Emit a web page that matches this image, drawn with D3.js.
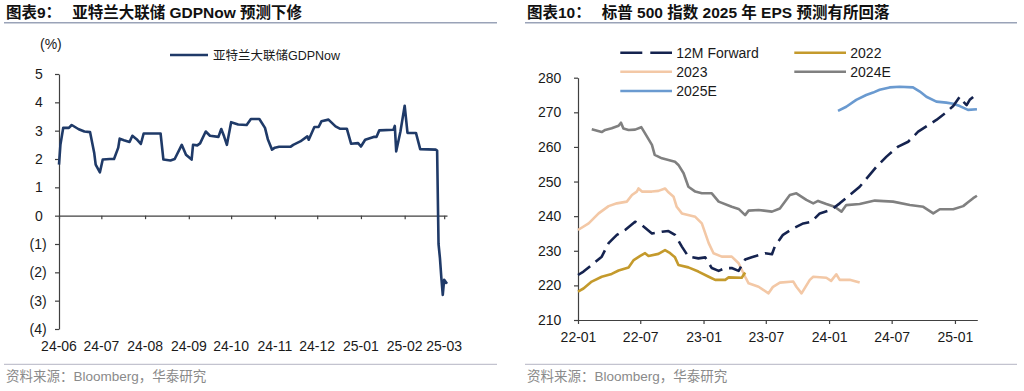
<!DOCTYPE html>
<html><head><meta charset="utf-8">
<script src="https://cdn.jsdelivr.net/npm/d3@7"></script>
<style>
html,body{margin:0;padding:0;background:#fff;}
svg{display:block;font-family:"Liberation Sans","Noto Sans CJK SC",Arial,sans-serif;}
</style></head><body>
<svg id="c" width="1024" height="391"></svg>
<script>
// ---------- Left chart data: Atlanta Fed GDPNow (%) ----------
const gdpDates = ["2024-06-01","2024-06-02","2024-06-04","2024-06-08","2024-06-10","2024-06-15","2024-06-19","2024-06-23","2024-06-26","2024-06-27","2024-06-30",
"2024-07-02","2024-07-07","2024-07-10","2024-07-13","2024-07-14","2024-07-17","2024-07-21","2024-07-23","2024-07-26","2024-07-29","2024-07-31",
"2024-08-12","2024-08-14","2024-08-19","2024-08-22","2024-08-27","2024-08-30","2024-09-03","2024-09-04","2024-09-07","2024-09-09","2024-09-13","2024-09-16","2024-09-22","2024-09-24","2024-09-26","2024-09-28",
"2024-10-01","2024-10-06","2024-10-12","2024-10-15","2024-10-21","2024-10-25","2024-10-27","2024-10-30","2024-11-01","2024-11-04","2024-11-12","2024-11-14","2024-11-19","2024-11-24","2024-11-25","2024-11-29",
"2024-12-02","2024-12-04","2024-12-09","2024-12-14","2024-12-17","2024-12-22","2024-12-25","2024-12-30","2025-01-01","2025-01-04","2025-01-10","2025-01-12","2025-01-14","2025-01-24","2025-01-25","2025-01-26","2025-01-29",
"2025-02-01","2025-02-03","2025-02-09","2025-02-12","2025-02-23","2025-02-24","2025-02-25","2025-02-26","2025-02-27","2025-02-28","2025-03-01","2025-03-03"];
const gdpValues = [1.8,2.5,3.1,3.1,3.2,3.05,2.97,2.95,2.2,1.8,1.53,
1.98,2.0,2.0,2.4,2.72,2.66,2.6,2.82,2.7,2.53,2.9,
2.9,1.98,1.95,2.0,2.5,2.15,1.98,2.5,2.48,2.55,2.97,2.82,2.78,3.06,2.8,2.5,
3.3,3.22,3.2,3.41,3.41,3.1,2.7,2.33,2.4,2.43,2.43,2.5,2.62,2.8,2.68,3.13,
3.13,3.33,3.39,3.15,3.07,3.07,2.54,2.56,2.44,2.68,2.78,2.78,3.01,3.03,3.17,2.27,2.97,
3.88,2.92,2.92,2.35,2.33,2.3,-1.0,-1.5,-2.2,-2.8,-2.26,-2.4];
const gdpYTicks = [5,4,3,2,1,0,-1,-2,-3,-4];
const gdpXTicks = ["2024-06-01","2024-07-01","2024-08-01","2024-09-01","2024-10-01","2024-11-01","2024-12-01","2025-01-01","2025-02-01","2025-03-01"];
const gdpSeriesName = "亚特兰大联储GDPNow";

// ---------- Right chart data: S&P 500 EPS ----------
const fwdDates = ["2022-01-01","2022-01-17","2022-02-10","2022-03-11","2022-03-31","2022-04-24","2022-05-18","2022-06-16","2022-07-06","2022-08-04","2022-09-02","2022-09-21","2022-10-10","2022-10-30","2022-11-18","2022-12-17",
"2023-01-06","2023-01-25","2023-02-14","2023-03-05","2023-03-24","2023-04-13","2023-05-02","2023-05-21","2023-06-29","2023-07-19","2023-07-27","2023-08-20","2023-09-19","2023-10-18","2023-11-11","2023-12-05",
"2024-01-07","2024-02-01","2024-03-01","2024-03-30","2024-05-18","2024-06-16","2024-07-20","2024-08-18","2024-09-16","2024-10-15","2024-11-08","2024-12-03","2024-12-27","2025-01-15","2025-01-25","2025-02-04","2025-02-13","2025-03-05"];
const fwdValues = [223,224,225.9,228.3,232.2,234.6,236,238.4,237.4,235,235.5,235.7,234.6,231.2,228.3,227.8,
228.1,225,224.2,225,225,224.2,227.5,228.1,229.3,229,231.2,234.6,236.5,237.9,238.4,240.8,
241.8,243.7,246.1,248.5,254.3,257.2,260.1,261.5,264.4,266.3,267.8,269.7,271.8,274.5,273.1,272.1,273.6,275.3];

const y2022Dates = ["2022-01-01","2022-01-17","2022-02-10","2022-03-11","2022-04-09","2022-04-29","2022-05-28","2022-06-12","2022-07-01","2022-07-15","2022-07-25","2022-08-23","2022-09-11","2022-09-26","2022-10-10","2022-10-20","2022-11-18","2022-12-17",
"2023-01-16","2023-02-04","2023-03-05","2023-03-15","2023-04-22","2023-05-02"];
const y2022Values = [218.2,219.1,221.1,222.5,223.3,224.3,225.2,227.3,228.5,229.3,228.5,229.1,230.2,229.3,228.1,225.9,225.2,224,
222.5,221.6,221.6,222.3,222.2,223.7];

const y2023Dates = ["2022-01-01","2022-02-01","2022-03-02","2022-03-31","2022-04-24","2022-05-23","2022-06-07","2022-06-21","2022-06-26","2022-07-06","2022-08-04","2022-08-23","2022-09-11","2022-09-21","2022-10-06","2022-10-15","2022-10-30","2022-12-08","2022-12-27",
"2023-01-16","2023-01-30","2023-02-23","2023-03-24","2023-04-13","2023-05-02","2023-05-12","2023-06-10","2023-07-09","2023-07-22","2023-08-11","2023-09-19","2023-09-28","2023-10-13","2023-11-06","2023-11-16","2023-12-24",
"2024-01-07","2024-01-22","2024-02-01","2024-03-01","2024-03-30"];
const y2023Values = [236,237.9,240.8,242.9,243.7,244.2,246.1,247.1,248,247.1,247.1,247.3,248,246.9,245.6,242.7,240.8,239.8,237.9,
232.2,229.3,228.3,228.3,226.4,222.5,220.6,219.6,217.7,219.6,220.8,221.1,219.6,217.7,221.6,222.5,222.2,
221.3,223.2,221.6,221.6,220.8];

const y2024Dates = ["2022-02-10","2022-03-11","2022-03-21","2022-04-09","2022-04-29","2022-05-06","2022-05-13","2022-05-28","2022-06-16","2022-07-04","2022-07-15","2022-08-04","2022-08-12","2022-09-02","2022-09-21","2022-10-10","2022-10-20","2022-11-04","2022-11-18","2022-12-08","2022-12-27",
"2023-01-25","2023-02-14","2023-03-24","2023-04-13","2023-05-02","2023-05-12","2023-06-10","2023-07-19","2023-08-11","2023-09-09","2023-09-28","2023-10-27","2023-11-16","2023-11-30","2023-12-24",
"2024-01-17","2024-02-06","2024-02-20","2024-03-30","2024-05-13","2024-07-05","2024-08-23","2024-10-01","2024-10-30","2024-11-18","2024-12-27","2025-01-25","2025-02-08","2025-02-23","2025-03-06"];
const y2024Values = [265.1,264.3,264.9,265.4,266.1,267,265.3,264.9,265,265.7,263.9,260.6,257.7,256.7,256.2,255.7,254.8,252.4,248.5,247.1,246.6,
246.6,244.2,242.7,242.1,240.3,241.6,241.8,241.3,242.2,246.1,246.6,244.7,243.7,244.4,243.5,
242.7,241.3,243.2,243.5,244.5,244.2,243.2,242.7,240.8,242,242,242.9,244,245.2,245.9];

const y2025Dates = ["2024-01-27","2024-02-20","2024-03-20","2024-04-18","2024-05-08","2024-05-27","2024-06-25","2024-07-24","2024-09-01","2024-09-21","2024-10-10","2024-11-08","2024-12-07","2024-12-27","2025-01-15","2025-02-08","2025-03-06"];
const y2025Values = [270.4,271.6,273.6,275,275.7,276.5,277.2,277.4,277.2,276,274.5,273.1,272.8,272.5,271.8,270.7,270.9];

const epsYTicks = [210,220,230,240,250,260,270,280];
const epsXTicks = ["2022-01-01","2022-07-01","2023-01-01","2023-07-01","2024-01-01","2024-07-01","2025-01-01"];
const epsSeriesNames = ["12M Forward","2022","2023","2024E","2025E"];

const titleLeft = "图表9：";
const titleLeftText = "亚特兰大联储 GDPNow 预测下修";
const titleRight = "图表10：";
const titleRightText = "标普 500 指数 2025 年 EPS 预测有所回落";
const sourceText = "资料来源：Bloomberg，华泰研究";

// ---------- drawing ----------
const parse = d3.timeParse("%Y-%m-%d");
const svg = d3.select("#c");
svg.append("rect").attr("width",1024).attr("height",391).attr("fill","#fff");

const axisColor = "#404040";
const textColor = "#1a1a1a";

function header(x0, x1, label, text){
  const t = svg.append("text").attr("x", x0+2).attr("y", 18)
    .attr("font-size", 15.5).attr("font-weight", "bold").attr("fill", "#111");
  t.append("tspan").text(label);
  t.append("tspan").attr("dx", 11).text(text);
  svg.append("line").attr("x1", x0).attr("x2", x1).attr("y1", 22.7).attr("y2", 22.7)
    .attr("stroke", "#9aa3b8").attr("stroke-width", 1.5);
  svg.append("line").attr("x1", x0).attr("x2", x1).attr("y1", 364.3).attr("y2", 364.3)
    .attr("stroke", "#b4b4c4").attr("stroke-width", 1);
  svg.append("text").attr("x", x0+2).attr("y", 380.5).attr("font-size", 13.5)
    .attr("fill", "#8a8a8a").text(sourceText);
}
header(4, 497, titleLeft, titleLeftText);
header(525, 1017, titleRight, titleRightText);

// ---- Left chart ----
{
  const x = d3.scaleTime().domain([parse("2024-06-01"), parse("2025-03-03")]).range([59, 447]);
  const y = d3.scaleLinear().domain([-4, 5]).range([329, 74]);
  const fmt = d => d < 0 ? `(${-d})` : `${d}`;
  const gy = svg.append("g").attr("transform", "translate(59,0)")
    .call(d3.axisLeft(y).tickValues(gdpYTicks).tickFormat(fmt).tickSize(4).tickSizeOuter(0).tickPadding(8.3));
  gy.selectAll("text").attr("font-size", 14).attr("fill", textColor).attr("font-family", "Liberation Sans, Arial")
    .attr("dx", d => d >= 0 ? -4 : 0);
  gy.selectAll("line,path").attr("stroke", axisColor).attr("stroke-width", 1.2);

  const gx = svg.append("g").attr("transform", `translate(0,${y(0)})`)
    .call(d3.axisBottom(x).tickValues(gdpXTicks.map(parse)).tickFormat("").tickSize(3.5).tickSizeOuter(0));
  gx.selectAll("line,path").attr("stroke", axisColor).attr("stroke-width", 1.2);

  svg.append("g").selectAll("text").data(gdpXTicks).join("text")
    .attr("x", d => x(parse(d))).attr("y", 350.7).attr("text-anchor", "middle")
    .attr("font-size", 14).attr("fill", textColor).text(d => d3.timeFormat("%y-%m")(parse(d)));

  svg.append("text").attr("x", 40).attr("y", 48.5).attr("font-size", 14).attr("fill", textColor).text("(%)");

  const data = gdpDates.map((d, i) => [parse(d), gdpValues[i]]);
  svg.append("path").datum(data).attr("fill", "none").attr("stroke", "#1f3a68").attr("stroke-width", 2.6)
    .attr("stroke-linejoin", "round")
    .attr("d", d3.line().x(d => x(d[0])).y(d => y(d[1])));

  svg.append("line").attr("x1", 170).attr("x2", 208).attr("y1", 55).attr("y2", 55)
    .attr("stroke", "#1f3a68").attr("stroke-width", 2.6);
  svg.append("text").attr("x", 213).attr("y", 59.5).attr("font-size", 12.5).attr("fill", textColor).text(gdpSeriesName);
}

// ---- Right chart ----
{
  const x = d3.scaleTime().domain([parse("2022-01-01"), parse("2025-03-07")]).range([578, 977.3]);
  const y = d3.scaleLinear().domain([210, 280]).range([320, 77.7]);
  const gy = svg.append("g").attr("transform", "translate(578,0)")
    .call(d3.axisLeft(y).tickValues(epsYTicks).tickSize(4).tickSizeOuter(0).tickPadding(12.7));
  gy.selectAll("text").attr("font-size", 14).attr("fill", textColor).attr("font-family", "Liberation Sans, Arial");
  gy.selectAll("line,path").attr("stroke", axisColor).attr("stroke-width", 1.2);

  const gx = svg.append("g").attr("transform", `translate(0,${y(210)})`)
    .call(d3.axisBottom(x).tickValues(epsXTicks.map(parse)).tickFormat(d3.timeFormat("%y-%m"))
      .tickSize(4).tickSizeOuter(0).tickPadding(7.7));
  gx.selectAll("text").attr("font-size", 14).attr("fill", textColor).attr("font-family", "Liberation Sans, Arial");
  gx.selectAll("line,path").attr("stroke", axisColor).attr("stroke-width", 1.2);

  const series = [
    {name: epsSeriesNames[3], dates: y2024Dates, vals: y2024Values, color: "#808080", dash: null},
    {name: epsSeriesNames[2], dates: y2023Dates, vals: y2023Values, color: "#f3c8a6", dash: null},
    {name: epsSeriesNames[1], dates: y2022Dates, vals: y2022Values, color: "#c49a2c", dash: null},
    {name: epsSeriesNames[4], dates: y2025Dates, vals: y2025Values, color: "#6a9ad0", dash: null},
    {name: epsSeriesNames[0], dates: fwdDates, vals: fwdValues, color: "#15234f", dash: "15,7"}
  ];
  const line = d3.line().x(d => x(d[0])).y(d => y(d[1]));
  series.forEach(s => {
    const data = s.dates.map((d, i) => [parse(d), s.vals[i]]);
    svg.append("path").datum(data).attr("fill", "none").attr("stroke", s.color).attr("stroke-width", 2.6)
      .attr("stroke-linejoin", "round").attr("stroke-dasharray", s.dash).attr("d", line);
  });

  const legend = [
    {name: epsSeriesNames[0], color: "#15234f", dash: "22,8", lx: 620.3, ly: 52.7},
    {name: epsSeriesNames[1], color: "#c49a2c", dash: null, lx: 794.3, ly: 52.7},
    {name: epsSeriesNames[2], color: "#f3c8a6", dash: null, lx: 620.3, ly: 71.7},
    {name: epsSeriesNames[3], color: "#808080", dash: null, lx: 794.3, ly: 71.7},
    {name: epsSeriesNames[4], color: "#6a9ad0", dash: null, lx: 620.3, ly: 91}
  ];
  legend.forEach(l => {
    svg.append("line").attr("x1", l.lx).attr("x2", l.lx + 51.7).attr("y1", l.ly).attr("y2", l.ly)
      .attr("stroke", l.color).attr("stroke-width", 2.6).attr("stroke-dasharray", l.dash);
    svg.append("text").attr("x", l.lx + 56).attr("y", l.ly + 5).attr("font-size", 14).attr("fill", textColor).text(l.name);
  });
}
</script>
</body></html>
